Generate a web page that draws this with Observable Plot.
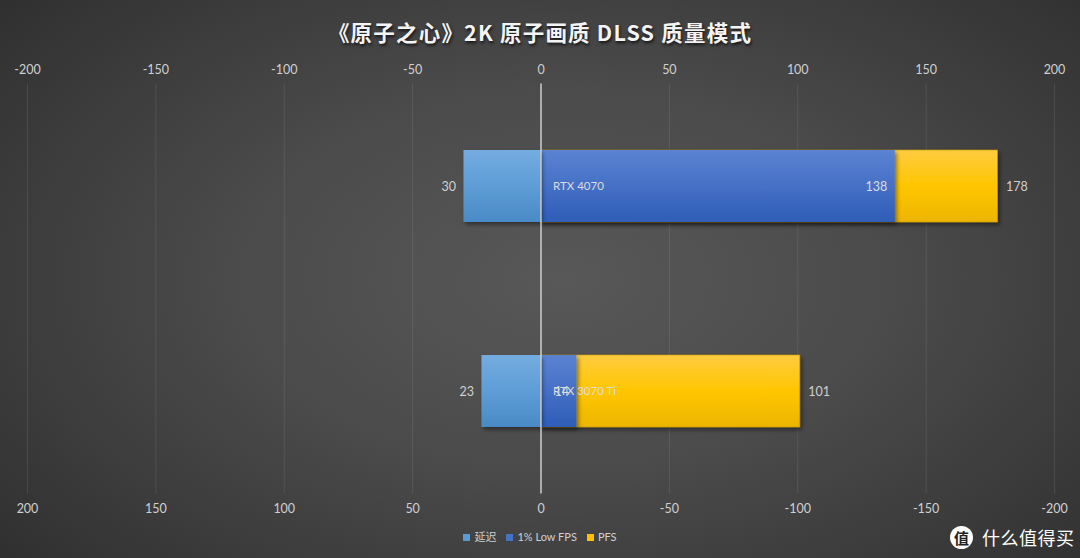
<!DOCTYPE html>
<html>
<head>
<meta charset="utf-8">
<script src="https://cdn.jsdelivr.net/npm/d3@7"></script>
<script src="https://cdn.jsdelivr.net/npm/@observablehq/plot@0.6"></script>
<style>
  html, body { margin:0; padding:0; }
  body {
    width:1080px; height:558px; overflow:hidden; position:relative;
    background: radial-gradient(ellipse 75% 85% at 52% 50%, #585858 0%, #4b4b4b 40%, #2b2b2b 100%);
    font-family: Lato, "Noto Sans CJK SC", sans-serif;
  }
  #title {
    height:50px; box-sizing:border-box; padding-top:18px; line-height:28px;
    text-align:center; color:#f4f4f4; font-weight:bold; font-size:21.5px; letter-spacing:1.2px;
    font-family: "Noto Sans CJK SC", sans-serif;
    text-shadow: 1px 2px 3px rgba(0,0,0,0.7);
  }
  #chart svg { display:block; }
  #legend {
    height:38px; box-sizing:border-box; padding-top:10px; line-height:14px;
    text-align:center; color:#d0d0d0; font-size:11px;
    font-family: Lato, "Noto Sans CJK SC", sans-serif;
  }
  #legend span.item { margin:0 5px; white-space:nowrap; }
  #legend span.sw { display:inline-block; width:7px; height:7px; margin-right:4px; vertical-align:0px; }
  #wm { position:absolute; left:950px; top:525px; height:24px; display:flex; align-items:center; color:#fff; }
  #wm .c { width:23px; height:23px; border-radius:50%; background:#fff; color:#222; font-size:15px; font-weight:bold;
           display:flex; align-items:center; justify-content:center; font-family:"Noto Sans CJK SC"; }
  #wm .t { margin-left:9px; font-size:18px; font-family:"Noto Sans CJK SC"; letter-spacing:0.5px; }
</style>
</head>
<body>
<div id="title">《原子之心》2K 原子画质 DLSS 质量模式</div>
<div id="chart"></div>
<div id="legend"></div>
<div id="wm"><div class="c">值</div><div class="t">什么值得买</div></div>
<script>
const categories = ["RTX 4070", "RTX 3070 Ti"];
const latency = [30, 23];      // 延迟 (drawn to the left of zero)
const lowFps = [138, 14];      // 1% Low FPS
const fps = [178, 101];        // PFS
const xTicks = [-200, -150, -100, -50, 0, 50, 100, 150, 200];
const seriesNames = ["延迟", "1% Low FPS", "PFS"];
const seriesColors = ["#5b9bd5", "#4472c4", "#ffc000"];

const rows = categories.map((c, i) => ({cat: c, lat: latency[i], low: lowFps[i], fps: fps[i]}));

const chart = Plot.plot({
  width: 1080, height: 470,
  marginTop: 33.5, marginBottom: 26.5, marginLeft: 27, marginRight: 26,
  x: {domain: [-200, 200]},
  y: {domain: categories, paddingInner: 0.649, paddingOuter: 0.3244, axis: null},
  style: {background: "transparent", color: "#d0d0d0", fontSize: "12.5px", fontFamily: "Lato, 'Noto Sans CJK SC', sans-serif"},
  marks: [
    Plot.gridX(xTicks, {stroke: "#ffffff", strokeOpacity: 0.09, strokeWidth: 1}),
    Plot.axisX(xTicks, {anchor: "top", tickSize: 0, tickPadding: 10, tickFormat: d => String(d), fill: "#d0d0d0"}),
    Plot.axisX(xTicks, {anchor: "bottom", tickSize: 0, tickPadding: 10, tickFormat: d => String(-d), fill: "#d0d0d0"}),
    Plot.barX(rows, {y: "cat", x1: d => 0, x2: "fps", fill: "url(#gY)", stroke: "#c99a00", strokeWidth: 0.6, className: "sh"}),
    Plot.barX(rows, {y: "cat", x1: d => 0, x2: "low", fill: "url(#gB)", className: "sh"}),
    Plot.barX(rows, {y: "cat", x1: d => -d.lat, x2: d => 0, fill: "url(#gL)", className: "sh"}),
    Plot.ruleX([0], {stroke: "#e0e0e0", strokeWidth: 1.5, strokeOpacity: 0.85}),
    Plot.text(rows, {y: "cat", x: d => -d.lat, text: d => String(d.lat), textAnchor: "end", dx: -8, fill: "#d0d0d0"}),
    Plot.text(rows, {y: "cat", x: "low", text: d => String(d.low), textAnchor: "end", dx: -8, fill: "#dcdcdc"}),
    Plot.text(rows, {y: "cat", x: "fps", text: d => String(d.fps), textAnchor: "start", dx: 8, fill: "#d0d0d0"}),
    Plot.text(rows, {y: "cat", x: d => 0, text: "cat", textAnchor: "start", dx: 12, fill: "#dcdcdc", fontSize: 11.5})
  ]
});
document.getElementById("chart").appendChild(chart);

// gradients + shadow
const svg = d3.select(chart);
const defs = svg.insert("defs", ":first-child");
function grad(id, stops) {
  const g = defs.append("linearGradient").attr("id", id).attr("x1", 0).attr("y1", 0).attr("x2", 0).attr("y2", 1);
  stops.forEach(([o, c]) => g.append("stop").attr("offset", o).attr("stop-color", c));
}
grad("gL", [[0, "#74acdf"], [0.5, "#5e9dd6"], [1, "#4a8ac6"]]);
grad("gB", [[0, "#5b83d2"], [0.5, "#4670c6"], [1, "#2f5db6"]]);
grad("gY", [[0, "#ffcb40"], [0.5, "#ffc600"], [1, "#edb500"]]);
const f = defs.append("filter").attr("id", "shadow").attr("x", "-10%").attr("y", "-20%").attr("width", "130%").attr("height", "150%");
f.append("feDropShadow").attr("dx", 2).attr("dy", 2.5).attr("stdDeviation", 2).attr("flood-color", "#000").attr("flood-opacity", 0.45);
svg.selectAll("g.sh, g[aria-label='bar']").attr("filter", "url(#shadow)");

// legend
const lg = document.getElementById("legend");
seriesNames.forEach((n, i) => {
  const s = document.createElement("span");
  s.className = "item";
  s.innerHTML = `<span class="sw" style="background:${seriesColors[i]}"></span>${n}`;
  lg.appendChild(s);
});
</script>
</body>
</html>
